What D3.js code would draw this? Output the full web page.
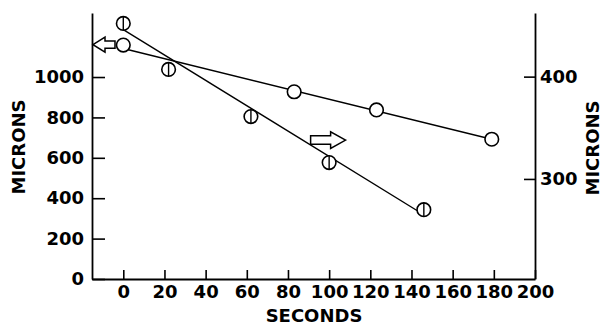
<!DOCTYPE html>
<html>
<head>
<meta charset="utf-8">
<script src="https://cdn.jsdelivr.net/npm/d3@7"></script>
<style>
  html, body { margin: 0; padding: 0; background: #fff; }
  svg { display: block; }
  text { font-family: "DejaVu Sans", "Liberation Sans", Arial, sans-serif; font-weight: bold; fill: #000; }
</style>
</head>
<body>
<script>
// ---- data ----
// Series A: open circles, left axis (MICRONS)
const timeA = [0, 83, 123, 179];
const micronsA = [1158, 927, 837, 692];
// fitted straight line for series A (end points)
const fitTimeA = [0, 179];
const fitMicronsA = [1141, 692];

// Series B: circles with vertical bar, right axis (MICRONS)
const timeB = [0, 22, 62, 100, 146];
const micronsB = [452, 407, 361, 316, 270];
const fitTimeB = [0, 146];
const fitMicronsB = [446, 265];

// tick labels
const xTicks = [0, 20, 40, 60, 80, 100, 120, 140, 160, 180, 200];
const leftTicks = [0, 200, 400, 600, 800, 1000];
const rightTicks = [300, 400];

// arrow annotations (data coordinates of the arrow tips)
const arrowLeftTip = { t: -15.2, v: 1160, axis: "left" };
const arrowRightTip = { t: 108, v: 338, axis: "right" };

// ---- layout ----
const W = 604, H = 327;
const svg = d3.select("body").append("svg").attr("width", W).attr("height", H);

const x = d3.scaleLinear().domain([-15.2, 200]).range([92, 535]);
const yL = d3.scaleLinear().domain([0, 1317]).range([279, 13]);
const yR = d3.scaleLinear().domain([202.2, 462.2]).range([279, 13]);

const fs = 18;
const fmt = d3.format("d");

// axes
const gL = svg.append("g").attr("transform", `translate(${x.range()[0]},0)`)
  .call(d3.axisLeft(yL).tickValues(leftTicks).tickFormat(fmt).tickSizeInner(-13).tickSizeOuter(0).tickPadding(8));
const gB = svg.append("g").attr("transform", `translate(0,${yL.range()[0]})`)
  .call(d3.axisBottom(x).tickValues(xTicks).tickFormat(fmt).tickSizeInner(-9).tickSizeOuter(0).tickPadding(6));
const gR = svg.append("g").attr("transform", `translate(${x.range()[1]},0)`)
  .call(d3.axisRight(yR).tickValues(rightTicks).tickFormat(fmt).tickSizeInner(-11).tickSizeOuter(0).tickPadding(5));

[gL, gB, gR].forEach(g => {
  g.selectAll("path.domain").attr("stroke", "#000").attr("stroke-width", 1.8);
  g.selectAll(".tick line").attr("stroke", "#000").attr("stroke-width", 1.6);
  g.selectAll(".tick text").attr("font-size", fs).attr("font-family", null).attr("fill", "#000");
});

// axis titles
svg.append("text").attr("transform", `translate(25,147) rotate(-90)`)
  .attr("text-anchor", "middle").attr("font-size", 18).text("MICRONS");
svg.append("text").attr("transform", `translate(599,148) rotate(-90)`)
  .attr("text-anchor", "middle").attr("font-size", 18).text("MICRONS");
svg.append("text").attr("x", 314).attr("y", 322)
  .attr("text-anchor", "middle").attr("font-size", 18).text("SECONDS");

// fitted lines
const lineL = d3.line().x(d => x(d[0])).y(d => yL(d[1]));
const lineR = d3.line().x(d => x(d[0])).y(d => yR(d[1]));
svg.append("path").datum(d3.zip(fitTimeA, fitMicronsA)).attr("d", lineL)
  .attr("fill", "none").attr("stroke", "#000").attr("stroke-width", 1.4);
svg.append("path").datum(d3.zip(fitTimeB, fitMicronsB)).attr("d", lineR)
  .attr("fill", "none").attr("stroke", "#000").attr("stroke-width", 1.4);

// markers A: open circles
const r = 6.8;
svg.append("g").selectAll("circle").data(d3.zip(timeA, micronsA)).join("circle")
  .attr("cx", d => x(d[0])).attr("cy", d => yL(d[1])).attr("r", r)
  .attr("fill", "#fff").attr("stroke", "#000").attr("stroke-width", 1.6);

// markers B: circles with vertical bar
const gBm = svg.append("g").selectAll("g").data(d3.zip(timeB, micronsB)).join("g")
  .attr("transform", d => `translate(${x(d[0])},${yR(d[1])})`);
gBm.append("circle").attr("r", r).attr("fill", "#fff").attr("stroke", "#000").attr("stroke-width", 1.6);
gBm.append("line").attr("x1", 0).attr("x2", 0).attr("y1", -r).attr("y2", r)
  .attr("stroke", "#000").attr("stroke-width", 1.4);

// arrows
function arrowPath(dir) {
  // tip at (0,0); dir = -1 points left, +1 points right
  const hl = dir < 0 ? 12 : 15, hh = dir < 0 ? 7.5 : 8.3, sl = dir < 0 ? 22 : 35, sh = dir < 0 ? 3.6 : 4.2;
  const s = -dir;
  const pts = [[0, 0], [s * hl, -hh], [s * hl, -sh], [s * sl, -sh], [s * sl, sh], [s * hl, sh], [s * hl, hh]];
  return d3.line()(pts) + "Z";
}
svg.append("path")
  .attr("transform", `translate(${x(arrowLeftTip.t) + 1},${yL(arrowLeftTip.v)})`)
  .attr("d", arrowPath(-1)).attr("fill", "#fff").attr("stroke", "#000").attr("stroke-width", 1.5)
  .attr("stroke-linejoin", "miter");
svg.append("path")
  .attr("transform", `translate(${x(arrowRightTip.t)},${yR(arrowRightTip.v)})`)
  .attr("d", arrowPath(1)).attr("fill", "#fff").attr("stroke", "#000").attr("stroke-width", 1.5)
  .attr("stroke-linejoin", "miter");
</script>
</body>
</html>
